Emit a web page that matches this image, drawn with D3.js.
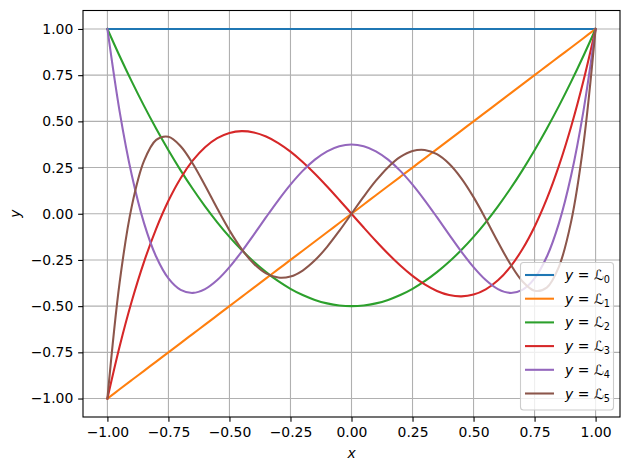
<!DOCTYPE html>
<html><head><meta charset="utf-8">
<script src="https://cdn.jsdelivr.net/npm/d3@7"></script>
<style>body{margin:0;background:#fff}svg text{font-family:"DejaVu Sans",sans-serif}</style>
</head><body>
<svg id="c" width="630" height="470"></svg>
<script>
const xs = [-1,-0.95,-0.9,-0.85,-0.8,-0.75,-0.7,-0.65,-0.6,-0.55,-0.5,-0.45,-0.4,-0.35,-0.3,-0.25,-0.2,-0.15,-0.1,-0.05,0,
  0.05,0.1,0.15,0.2,0.25,0.3,0.35,0.4,0.45,0.5,0.55,0.6,0.65,0.7,0.75,0.8,0.85,0.9,0.95,1];
const L0 = xs.map(()=>1);
const L1 = xs.slice();
const L2 = [1,0.85375,0.715,0.58375,0.46,0.34375,0.235,0.13375,0.04,-0.04625,-0.125,-0.19625,-0.26,-0.31625,-0.365,-0.40625,-0.44,-0.46625,-0.485,-0.49625,-0.5,
  -0.49625,-0.485,-0.46625,-0.44,-0.40625,-0.365,-0.31625,-0.26,-0.19625,-0.125,-0.04625,0.04,0.13375,0.235,0.34375,0.46,0.58375,0.715,0.85375,1];
const L3 = [-1,-0.71844,-0.4725,-0.26031,-0.08,0.07031,0.1925,0.28844,0.36,0.40906,0.4375,0.44719,0.44,0.41781,0.3825,0.33594,0.28,0.21656,0.1475,0.07469,0,
  -0.07469,-0.1475,-0.21656,-0.28,-0.33594,-0.3825,-0.41781,-0.44,-0.44719,-0.4375,-0.40906,-0.36,-0.28844,-0.1925,-0.07031,0.08,0.26031,0.4725,0.71844,1];
const L4 = [1,0.55409,0.20794,-0.0506,-0.233,-0.3501,-0.41206,-0.42841,-0.408,-0.35904,-0.28906,-0.20497,-0.113,-0.01872,0.07294,0.15771,0.232,0.29284,0.33794,0.36565,0.375,
  0.36565,0.33794,0.29284,0.232,0.15771,0.07294,-0.01872,-0.113,-0.20497,-0.28906,-0.35904,-0.408,-0.42841,-0.41206,-0.3501,-0.233,-0.0506,0.20794,0.55409,1];
const L5 = [-1,-0.37274,0.04114,0.28566,0.39952,0.41638,0.3652,0.27049,0.15264,0.02819,-0.08984,-0.19172,-0.27064,-0.32245,-0.34539,-0.33972,-0.30752,-0.25232,-0.17883,-0.09266,0,
  0.09266,0.17883,0.25232,0.30752,0.33972,0.34539,0.32245,0.27064,0.19172,0.08984,-0.02819,-0.15264,-0.27049,-0.3652,-0.41638,-0.39952,-0.28566,-0.04114,0.37274,1];
const xTicks = [-1,-0.75,-0.5,-0.25,0,0.25,0.5,0.75,1];
const yTicks = [-1,-0.75,-0.5,-0.25,0,0.25,0.5,0.75,1];
const names = ["0","1","2","3","4","5"];
const colors = ["#1f77b4","#ff7f0e","#2ca02c","#d62728","#9467bd","#8c564b"];
const series = [L0,L1,L2,L3,L4,L5];

const svg = d3.select("#c");
const L=83, R=620, T=10.5, B=417;
const x = d3.scaleLinear().domain([-1.1,1.1]).range([L,R]);
const y = d3.scaleLinear().domain([-1.1,1.1]).range([B,T]);

const g = svg.append("g");
g.selectAll(".gx").data(xTicks).enter().append("line")
  .attr("x1",d=>x(d)).attr("x2",d=>x(d)).attr("y1",T).attr("y2",B)
  .attr("stroke","#b0b0b0").attr("stroke-width",1.1);
g.selectAll(".gy").data(yTicks).enter().append("line")
  .attr("y1",d=>y(d)).attr("y2",d=>y(d)).attr("x1",L).attr("x2",R)
  .attr("stroke","#b0b0b0").attr("stroke-width",1.1);

const line = d3.line().x((d,i)=>x(xs[i])).y(d=>y(d)).curve(d3.curveCatmullRom.alpha(0.5));
svg.append("clipPath").attr("id","cp").append("rect").attr("x",L).attr("y",T).attr("width",R-L).attr("height",B-T);
series.forEach((s,k)=>{
  svg.append("path").attr("d",line(s)).attr("fill","none").attr("stroke",colors[k]).attr("stroke-width",2.08)
    .attr("stroke-linecap","square").attr("clip-path","url(#cp)");
});

const fmt = d=> (d<0?"\u2212":"") + Math.abs(d).toFixed(2);
const xa = svg.append("g").attr("transform",`translate(0,${B})`)
  .call(d3.axisBottom(x).tickValues(xTicks).tickFormat(fmt).tickSize(4.86).tickPadding(4.86));
const ya = svg.append("g").attr("transform",`translate(${L},0)`)
  .call(d3.axisLeft(y).tickValues(yTicks).tickFormat(fmt).tickSize(4.86).tickPadding(4.86));
[xa,ya].forEach(a=>{a.select(".domain").remove(); a.selectAll("line").attr("stroke","#000").attr("stroke-width",1.1);
  a.selectAll("text").attr("font-size","13.9px").attr("fill","#000").attr("font-family","DejaVu Sans");});

svg.append("rect").attr("x",L).attr("y",T).attr("width",R-L).attr("height",B-T).attr("fill","none").attr("stroke","#000").attr("stroke-width",1.1);

svg.append("text").attr("x",(L+R)/2).attr("y",458).attr("text-anchor","middle").attr("font-size","13.9px").attr("font-style","italic").text("x");
svg.append("text").attr("transform",`translate(20,${(T+B)/2}) rotate(-90)`).attr("text-anchor","middle").attr("font-size","13.9px").attr("font-style","italic").text("y");

const lg = svg.append("g");
lg.append("rect").attr("x",520.5).attr("y",262.5).attr("width",93).attr("height",147.5).attr("rx",3)
  .attr("fill","#fff").attr("fill-opacity",0.8).attr("stroke","#cccccc").attr("stroke-width",1.1);
names.forEach((n,k)=>{
  const yy = 275 + k*23.7;
  lg.append("line").attr("x1",525).attr("x2",554).attr("y1",yy).attr("y2",yy).attr("stroke",colors[k]).attr("stroke-width",2.08);
  const t = lg.append("text").attr("x",565).attr("y",yy+5).attr("font-size","13.9px");
  t.append("tspan").attr("font-style","italic").text("y");
  t.append("tspan").text(" = ");
  t.append("tspan").attr("font-style","italic").text("\u2112");
  t.append("tspan").attr("font-size","9.7px").attr("dy",3).text(n);
});
</script>
</body></html>
